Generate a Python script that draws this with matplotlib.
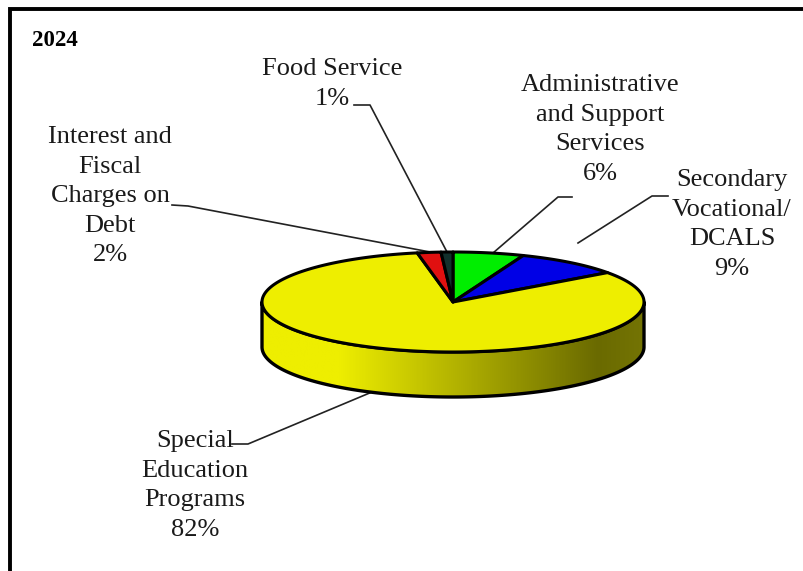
import numpy as np
import matplotlib
matplotlib.use("Agg")
import matplotlib.pyplot as plt
from matplotlib.colors import LinearSegmentedColormap
from matplotlib.patches import Polygon

year = "2024"
categories = ["Administrative\nand Support\nServices", "Secondary\nVocational/\nDCALS",
              "Special\nEducation\nPrograms", "Interest and\nFiscal\nCharges on\nDebt", "Food Service"]
shares = [6, 9, 82, 2, 1]
colors = ["#00ee00", "#0000e6", "#eeee00", "#e01010", "#12302c"]

# pie geometry, in figure pixels
cx, cy = 453, 302
rx, ry = 191, 50
depth = 45

# label centre x, top y of the first line, leader line points
label_pos = [(600, 74), (732, 169), (195, 430), (110, 126), (332, 58)]
leaders = [[(572, 197), (558, 197), (493, 253)],
           [(668, 196), (652, 196), (578, 243)],
           [(232, 444), (248, 444), (372, 392)],
           [(172, 205), (188, 206), (430, 252)],
           [(354, 105), (370, 105), (447, 252)]]

plt.rcParams['font.family'] = ['Liberation Serif', 'DejaVu Serif']

fig = plt.figure(figsize=(8.04, 5.71), dpi=100)
ax = fig.add_axes([0, 0, 1, 1])
ax.set_xlim(0, 804)
ax.set_ylim(571, 0)
ax.axis("off")


def rim(a0, a1, n=200):
    # angles clockwise from the top of the squashed circle
    t = np.radians(np.linspace(a0, a1, n))
    return np.column_stack([cx + rx * np.sin(t), cy - ry * np.cos(t)])


# frame runs along the left and top only
ax.plot([10.5, 10.5, 804], [571, 8.5, 8.5], color="black", lw=2.8, solid_joinstyle="miter")

# side wall with the shading going from yellow to dark olive
front = rim(90, 270)
wall = np.vstack([front, (front + [0, depth])[::-1]])
cmap = LinearSegmentedColormap.from_list("wall", [(0, "#eeee00"), (0.2, "#eeee00"), (0.5, "#b4b400"),
                                                   (0.88, "#6a6a00"), (1, "#747404")])
grad = np.linspace(0, 1, 256).reshape(1, -1)
im = ax.imshow(grad, cmap=cmap, extent=(cx - rx, cx + rx, cy + ry + depth, cy - ry), aspect="auto", zorder=2)
ax.set_xlim(0, 804)
ax.set_ylim(571, 0)
edge = Polygon(wall, closed=True, fc="none", ec="black", lw=2.4, zorder=3, joinstyle="round")
ax.add_patch(edge)
im.set_clip_path(edge)

# top face, slices run clockwise from 12 o'clock
start = 0
for share, color in zip(shares, colors):
    end = start + share * 3.6
    pts = np.vstack([[cx, cy], rim(start, end)])
    ax.add_patch(Polygon(pts, closed=True, fc=color, ec="black", lw=2.2, zorder=4, joinstyle="round"))
    start = end

for (lx, ly), name, share in zip(label_pos, categories, shares):
    ax.text(lx, ly, f"{name}\n{share}%", ha="center", va="top", fontsize=19, color="#1a1a1a",
            linespacing=1.445, zorder=6)

for pts in leaders:
    xs, ys = zip(*pts)
    ax.plot(xs, ys, color="#222222", lw=1.2, zorder=1)

ax.text(32, 41, year, fontsize=16.5, fontweight="bold", ha="left", va="center", color="black")

fig.savefig("out.png", dpi=100)
